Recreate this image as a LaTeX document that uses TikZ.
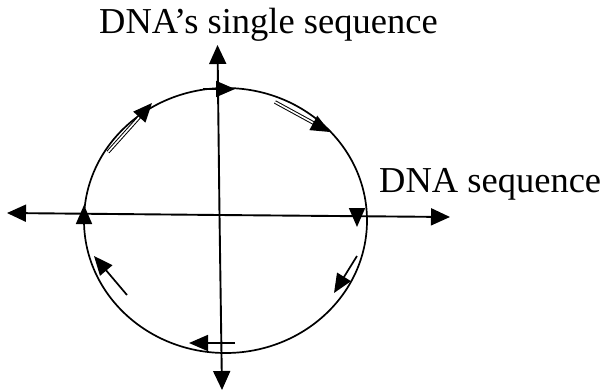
\documentclass[tikz,border=0pt]{standalone}
\usepackage{fontspec}
\setmainfont{Liberation Serif}
\usetikzlibrary{arrows.meta,calc}
\tikzset{
  axisline/.style={line width=1.9pt,-{Triangle[length=19pt,width=17pt]}},
  curve/.style={line width=1.7pt},
  mark arrow/.style={line width=1.7pt,-{Triangle[length=19pt,width=16pt]}},
  dbl/.style={double,line width=1pt,double distance=1.6pt},
  lbl/.style={anchor=base west,inner sep=0pt,font=\fontsize{36.5}{42}\selectfont}
}
\begin{document}
\begin{tikzpicture}[x=1pt,y=-1pt]
\useasboundingbox (0,0) rectangle (601,391);
% ellipse
\draw[curve] (225.5,220.5) ellipse [x radius=141.5, y radius=132.5];
% axes
\coordinate (hl) at (7,213);
\coordinate (hr) at (450,217);
\coordinate (vt) at (217.5,45);
\coordinate (vb) at (222,390);
\coordinate (vc) at (219.5,215);
\draw[axisline] (vc) -- (hl);
\draw[axisline] (vc) -- (hr);
\draw[axisline] (vc) -- (vt);
\draw[axisline] (vc) -- (vb);
% labels
\node[lbl] (t1) at (99,33) {DNA’s single sequence};
\node[lbl] (t2) at (379,192) {DNA sequence};
% markers on the ellipse
\coordinate (a1s) at (203,89);   \coordinate (a1t) at (235,89);
\coordinate (a2s) at (275,102);  \coordinate (a2t) at (330,132);
\coordinate (a3s) at (357,208);  \coordinate (a3t) at (357,227);
\coordinate (a4s) at (357,256);  \coordinate (a4t) at (334,293);
\coordinate (a5s) at (235,343);  \coordinate (a5t) at (189,343);
\coordinate (a6s) at (127,295);  \coordinate (a6t) at (94,256);
\coordinate (a7s) at (84,224);   \coordinate (a7t) at (84,205);
\coordinate (a8s) at (108,152);  \coordinate (a8t) at (152,103);
\draw[mark arrow] (a1s) -- (a1t);
\draw[dbl] (a2s) -- ($(a2t)!17pt!(a2s)$);
\draw[mark arrow] ($(a2t)!19pt!(a2s)$) -- (a2t);
\draw[mark arrow] (a3s) -- (a3t);
\draw[mark arrow] (a4s) -- (a4t);
\draw[mark arrow] (a5s) -- (a5t);
\draw[mark arrow] (a6s) -- (a6t);
\draw[mark arrow] (a7s) -- (a7t);
\draw[dbl] (a8s) -- ($(a8t)!17pt!(a8s)$);
\draw[mark arrow] ($(a8t)!19pt!(a8s)$) -- (a8t);
\end{tikzpicture}
\end{document}
